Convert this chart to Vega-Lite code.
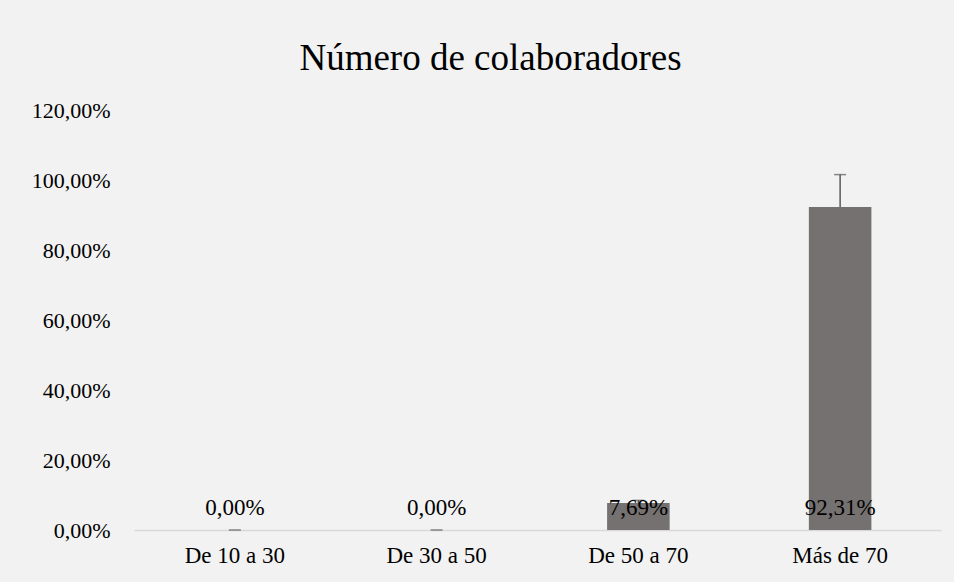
{
  "$schema": "https://vega.github.io/schema/vega-lite/v6.json",
  "width": 807,
  "height": 420,
  "autosize": {"type": "none"},
  "padding": {"left": 134, "top": 110, "right": 13, "bottom": 52},
  "background": "#f2f2f2",
  "title": {
    "text": "Número de colaboradores",
    "font": "Liberation Serif",
    "fontSize": 37,
    "fontWeight": "normal",
    "color": "#000000",
    "anchor": "middle",
    "dx": -47,
    "offset": 21
  },
  "config": {
    "view": {"stroke": null},
    "font": "Liberation Serif"
  },
  "data": {
    "values": [
      {"cat": "De 10 a 30", "value": 0.0, "upper": 0.0, "label": "0,00%"},
      {"cat": "De 30 a 50", "value": 0.0, "upper": 0.0, "label": "0,00%"},
      {"cat": "De 50 a 70", "value": 0.0769, "upper": 0.0846, "label": "7,69%"},
      {"cat": "Más de 70", "value": 0.9231, "upper": 1.0154, "label": "92,31%"}
    ]
  },
  "encoding": {
    "x": {
      "field": "cat",
      "type": "nominal",
      "sort": null,
      "title": null,
      "scale": {"paddingInner": 0.69, "paddingOuter": 0.345},
      "axis": {
        "labelAngle": 0,
        "labelFont": "Liberation Serif",
        "labelFontSize": 23,
        "labelColor": "#000000",
        "labelPadding": 14,
        "ticks": false,
        "domainColor": "#d9d9d9",
        "domainWidth": 1.5
      }
    }
  },
  "layer": [
    {
      "mark": {"type": "bar", "color": "#757171"},
      "encoding": {
        "y": {
          "field": "value",
          "type": "quantitative",
          "title": null,
          "scale": {"domain": [0, 1.2], "nice": false},
          "axis": {
            "values": [0, 0.2, 0.4, 0.6, 0.8, 1.0, 1.2],
            "labelExpr": "replace(format(datum.value * 100, '.2f'), '.', ',') + '%'",
            "labelFont": "Liberation Serif",
            "labelFontSize": 22,
            "labelColor": "#000000",
            "labelPadding": 24,
            "ticks": false,
            "domain": false,
            "grid": false
          }
        }
      }
    },
    {
      "mark": {"type": "rule", "color": "#595959", "strokeWidth": 1.5},
      "encoding": {
        "y": {"field": "value", "type": "quantitative"},
        "y2": {"field": "upper"}
      }
    },
    {
      "mark": {"type": "tick", "color": "#595959", "thickness": 1.5, "size": 12, "orient": "horizontal"},
      "encoding": {
        "y": {"field": "upper", "type": "quantitative"}
      }
    },
    {
      "mark": {"type": "text", "font": "Liberation Serif", "fontSize": 23, "color": "#000000", "baseline": "alphabetic", "dy": -15},
      "encoding": {
        "y": {"datum": 0, "type": "quantitative"},
        "text": {"field": "label"}
      }
    }
  ]
}
